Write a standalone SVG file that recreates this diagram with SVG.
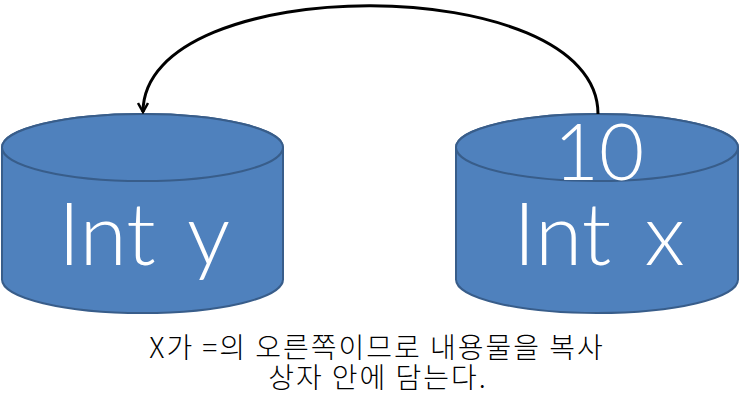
<svg xmlns="http://www.w3.org/2000/svg" width="740" height="416" viewBox="0 0 740 416">
<style>
.cyl{fill:#4F81BD;stroke:#385D8A;stroke-width:2}
.lbl{fill:#FFFFFF;font-family:"Lato","Open Sans","Liberation Sans",sans-serif;font-weight:300;text-anchor:middle;word-spacing:10px}
.cap{fill:#000000;font-family:"Noto Sans CJK KR",sans-serif;font-weight:300;font-size:28px;letter-spacing:2px;text-anchor:middle}
.conn{fill:none;stroke:#000;stroke-width:3}
</style>
<defs>
<marker id="arr" viewBox="0 0 12 12" refX="10" refY="6" markerWidth="12" markerHeight="12" markerUnits="userSpaceOnUse" orient="auto">
<polyline points="1,1 10,6 1,11" fill="none" stroke="#000" stroke-width="2.5"/>
</marker>
</defs>
<rect width="740" height="416" fill="#FFFFFF"/>
<g id="node-y">
<path class="cyl" d="M2,147.5 L2,279.5 A140.5,33.5 0 0 0 283,279.5 L283,147.5 A140.5,33.5 0 0 0 2,147.5 Z"/>
<ellipse class="cyl" cx="142.5" cy="147.5" rx="140.5" ry="33.5"/>
<text class="lbl" x="144" y="265" font-size="86">Int y</text>
</g>
<g id="node-x">
<path class="cyl" d="M456,147.5 L456,279.5 A141,33.5 0 0 0 738,279.5 L738,147.5 A141,33.5 0 0 0 456,147.5 Z"/>
<ellipse class="cyl" cx="597" cy="147.5" rx="141" ry="33.5"/>
<text class="lbl" x="599" y="180" font-size="78">10</text>
<text class="lbl" x="599" y="265" font-size="86">Int x</text>
</g>
<g id="connectors">
<path class="conn" d="M598,114 C598,-30 143,-30 143,112" marker-end="url(#arr)"/>
</g>
<g id="caption">
<text class="cap" x="377" y="358">X가 =의 오른쪽이므로 내용물을 복사</text>
<text class="cap" x="378" y="388">상자 안에 담는다.</text>
</g>
</svg>
